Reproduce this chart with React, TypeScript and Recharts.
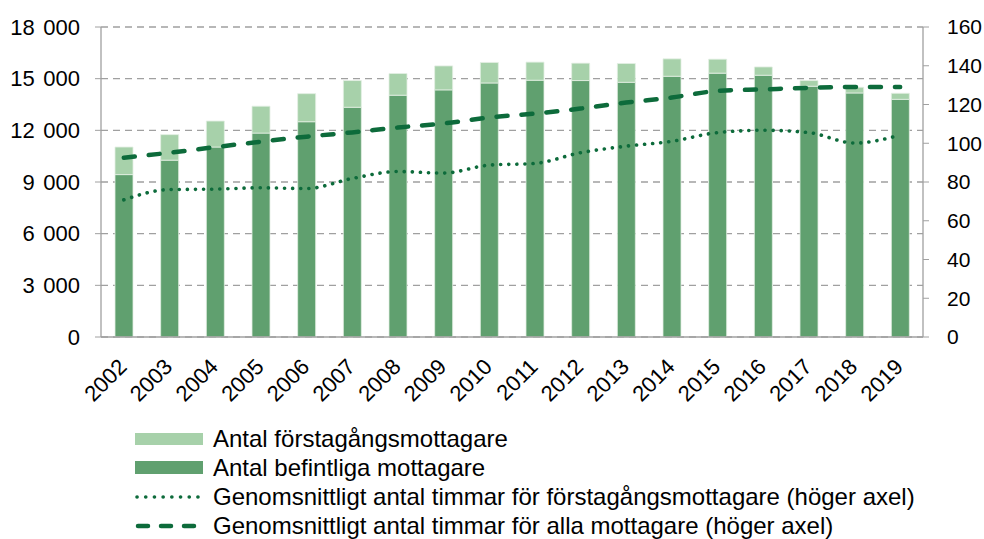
import {
  Bar,
  CartesianGrid,
  ComposedChart,
  Line,
  XAxis,
  YAxis,
} from "recharts";

const years = [
  "2002", "2003", "2004", "2005", "2006", "2007", "2008", "2009", "2010",
  "2011", "2012", "2013", "2014", "2015", "2016", "2017", "2018", "2019",
];
const befintliga = [
  9430, 10270, 11030, 11840, 12500, 13340, 14040, 14350, 14750,
  14910, 14890, 14790, 15140, 15320, 15200, 14560, 14170, 13800,
];
const forstagangs = [
  1600, 1480, 1510, 1560, 1630, 1550, 1260, 1390, 1190,
  1050, 1010, 1090, 1010, 810, 480, 330, 330, 350,
];
const timmarForsta = [
  70.8, 76.1, 76.3, 77.0, 76.6, 81.8, 85.4, 84.6, 88.7,
  89.6, 95.1, 98.5, 101.0, 105.5, 106.7, 105.5, 100.1, 104.2,
];
const timmarAlla = [
  92.5, 95.1, 98.0, 100.8, 103.4, 105.6, 108.1, 110.2, 113.3,
  115.3, 117.9, 121.0, 123.6, 127.0, 127.8, 128.6, 129.0, 129.0,
];
const leftTicks = [0, 3000, 6000, 9000, 12000, 15000, 18000];
const rightTicks = [0, 20, 40, 60, 80, 100, 120, 140, 160];

const data = years.map((year, i) => ({
  year,
  befintliga: befintliga[i],
  forstagangs: forstagangs[i],
  timmarForsta: timmarForsta[i],
  timmarAlla: timmarAlla[i],
}));

const LIGHT = "#a7d1aa";
const DARK = "#60a06f";
const LINE = "#0d6b3b";
const AXIS = "#a0a0a0";
const FONT = "'Liberation Sans', Arial, sans-serif";

function YearTick({ x, y, payload }: any) {
  return (
    <g transform={`translate(${x - 7},${y})`}>
      <text
        transform="rotate(-45)"
        textAnchor="end"
        dy="0.72em"
        fontSize={22}
        fontFamily={FONT}
        fill="#000"
      >
        {payload.value}
      </text>
    </g>
  );
}

// "18 000" style, with a slightly wider gap before the last three digits
function LeftTick({ x, y, payload }: any) {
  const v: number = payload.value;
  const head = v >= 1000 ? String(Math.floor(v / 1000)) : "";
  const tail = v >= 1000 ? String(v % 1000).padStart(3, "0") : String(v);
  return (
    <text
      x={x}
      y={y}
      dy="0.355em"
      textAnchor="end"
      fontSize={22}
      fontFamily={FONT}
      fill="#000"
    >
      {head && <tspan>{head}</tspan>}
      {head && <tspan dx={2.5}>{"\u00a0"}</tspan>}
      <tspan>{tail}</tspan>
    </text>
  );
}

const legendRow: React.CSSProperties = {
  position: "absolute",
  left: 135,
  height: 29,
  display: "flex",
  alignItems: "center",
  fontFamily: FONT,
  fontSize: 24,
  color: "#000",
  whiteSpace: "nowrap",
};

function Legend() {
  return (
    <>
      <div style={{ ...legendRow, top: 424 }}>
        <div style={{ width: 68, height: 12, background: LIGHT, marginRight: 10 }} />
        Antal förstagångsmottagare
      </div>
      <div style={{ ...legendRow, top: 453 }}>
        <div style={{ width: 68, height: 13, background: DARK, marginRight: 10 }} />
        Antal befintliga mottagare
      </div>
      <div style={{ ...legendRow, top: 482 }}>
        <svg width={68} height={10} style={{ marginRight: 10 }}>
          <line x1={2} y1={5} x2={66} y2={5} stroke={LINE} strokeWidth={3.6}
            strokeDasharray="0.1 8.6" strokeLinecap="round" />
        </svg>
        Genomsnittligt antal timmar för förstagångsmottagare (höger axel)
      </div>
      <div style={{ ...legendRow, top: 511 }}>
        <svg width={68} height={10} style={{ marginRight: 10 }}>
          <line x1={3} y1={5} x2={66} y2={5} stroke={LINE} strokeWidth={4.5}
            strokeDasharray="10 13" strokeLinecap="round" />
        </svg>
        Genomsnittligt antal timmar för alla mottagare (höger axel)
      </div>
    </>
  );
}

export default function App() {
  return (
    <div style={{ position: "absolute", left: 0, top: 0, width: 984, height: 539, background: "#fff" }}>
      <ComposedChart
        width={984}
        height={539}
        data={data}
        margin={{ top: 27, right: 0, bottom: 142, left: 0 }}
      >
        <CartesianGrid
          yAxisId="left"
          vertical={false}
          stroke={AXIS}
          strokeDasharray="7 5"
          strokeWidth={1.3}
        />
        <XAxis
          dataKey="year"
          height={60}
          tick={<YearTick />}
          tickLine={false}
          tickSize={0}
          tickMargin={20}
          interval={0}
          axisLine={{ stroke: AXIS, strokeWidth: 1.5 }}
        />
        <YAxis
          yAxisId="left"
          orientation="left"
          width={101}
          domain={[0, 18000]}
          ticks={leftTicks}
          tickSize={6}
          tickMargin={15}
          tickLine={{ stroke: AXIS }}
          axisLine={{ stroke: AXIS, strokeWidth: 1.3 }}
          tick={<LeftTick />}
        />
        <YAxis
          yAxisId="right"
          orientation="right"
          width={61}
          domain={[0, 160]}
          ticks={rightTicks}
          tickSize={6}
          tickMargin={18}
          tickLine={{ stroke: AXIS }}
          axisLine={{ stroke: AXIS, strokeWidth: 1.3 }}
          tick={{ fill: "#000", fontSize: 21, fontFamily: FONT, textAnchor: "start" }}
        />
        <Bar
          yAxisId="left"
          dataKey="befintliga"
          stackId="a"
          fill={DARK}
          barSize={18}
          stroke="#e3efe3"
          strokeWidth={0.8}
          isAnimationActive={false}
        />
        <Bar
          yAxisId="left"
          dataKey="forstagangs"
          stackId="a"
          fill={LIGHT}
          barSize={18}
          stroke="#e3efe3"
          strokeWidth={0.8}
          isAnimationActive={false}
        />
        <Line
          yAxisId="right"
          type="monotone"
          dataKey="timmarForsta"
          stroke={LINE}
          strokeWidth={3.6}
          strokeDasharray="0.1 8"
          strokeLinecap="round"
          dot={false}
          activeDot={false}
          isAnimationActive={false}
        />
        <Line
          yAxisId="right"
          type="monotone"
          dataKey="timmarAlla"
          stroke={LINE}
          strokeWidth={4.5}
          strokeDasharray="11 14"
          strokeLinecap="round"
          dot={false}
          activeDot={false}
          isAnimationActive={false}
        />
      </ComposedChart>
      <Legend />
    </div>
  );
}
